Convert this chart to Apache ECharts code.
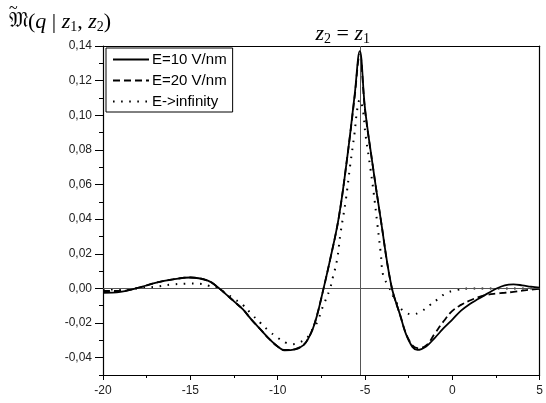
<!DOCTYPE html>
<html><head><meta charset="utf-8">
<script src="https://cdn.jsdelivr.net/npm/echarts@6/dist/echarts.min.js"></script>
<style>html,body{margin:0;padding:0;background:#fff}#c{width:546px;height:403px}</style>
</head><body><div id="c"></div>
<script>
const xTicks = [-20, -15, -10, -5, 0, 5];
const yTickLabels = [-0.04, -0.02, 0.00, 0.02, 0.04, 0.06, 0.08, 0.10, 0.12, 0.14];
const yMinorTicks = [-0.05, -0.03, -0.01, 0.01, 0.03, 0.05, 0.07, 0.09, 0.11, 0.13];
const seriesNames = ['E=10 V/nm', 'E=20 V/nm', 'E->infinity'];
const peakX = -5.3;

const x10 = [-20, -19, -18, -17, -16, -15, -14, -13.5, -13, -12.5, -12, -11.5, -11, -10.5, -10, -9.6, -9, -8.5, -8.25, -8, -7.75, -7.5, -7, -6.5, -6, -5.6, -5.3, -5, -4.6, -4.1, -3.5, -3, -2.5, -2, -1.5, -1, -0.5, 0, 0.5, 1, 1.5, 2, 2.5, 3, 3.5, 4, 4.5, 5];
const y10 = [-0.0025, -0.002, 0.0003, 0.0032, 0.0052, 0.0063, 0.0045, 0.0013, -0.003, -0.0075, -0.012, -0.018, -0.0235, -0.029, -0.0335, -0.0357, -0.0352, -0.0326, -0.029, -0.0237, -0.0158, -0.0055, 0.0165, 0.041, 0.077, 0.111, 0.137, 0.104, 0.074, 0.040, 0.002, -0.015, -0.030, -0.0355, -0.0335, -0.0285, -0.023, -0.018, -0.0128, -0.009, -0.006, -0.003, -0.0002, 0.0018, 0.0023, 0.0018, 0.001, 0.0004];

const x20 = [-20, -19, -18, -17, -16, -15, -14, -13.5, -13, -12.5, -12, -11.5, -11, -10.5, -10, -9.6, -9, -8.5, -8.25, -8, -7.75, -7.5, -7, -6.5, -6, -5.6, -5.3, -5, -4.6, -4.1, -3.5, -3, -2.5, -2, -1.5, -1, -0.5, 0, 0.5, 1, 1.5, 2, 2.5, 3, 3.5, 4, 4.5, 5];
const y20 = [-0.0015, -0.0015, 0.0003, 0.0032, 0.0052, 0.0063, 0.0045, 0.0013, -0.003, -0.0075, -0.012, -0.018, -0.0235, -0.029, -0.0335, -0.0355, -0.035, -0.0324, -0.0288, -0.0235, -0.0156, -0.0055, 0.0165, 0.041, 0.077, 0.110, 0.135, 0.103, 0.074, 0.040, 0.002, -0.015, -0.0295, -0.0345, -0.033, -0.026, -0.019, -0.013, -0.0095, -0.007, -0.005, -0.0037, -0.003, -0.0025, -0.002, -0.0013, -0.0007, -0.0002];

const xInf = [-20, -19, -18, -17, -16, -15, -14.5, -14, -13.5, -13, -12.5, -12, -11.5, -11, -10.5, -10, -9.5, -9.2, -8.75, -8.3, -8, -7.7, -7.5, -7.3, -7.0, -6.85, -6.6, -6.4, -6.1, -5.85, -5.6, -5.45, -5.3, -5.12, -4.98, -4.7, -4.5, -4.3, -4.1, -3.95, -3.65, -3.2, -2.8, -2.3, -1.8, -1.3, -0.8, -0.4, 0.2, 1.1, 2, 3, 4, 5];
const yInf = [-0.0008, -0.0005, 0.0, 0.001, 0.0023, 0.0028, 0.0027, 0.0017, 0.0003, -0.0025, -0.006, -0.0095, -0.0148, -0.0198, -0.0245, -0.0285, -0.0315, -0.0322, -0.0312, -0.0284, -0.0236, -0.0188, -0.0128, -0.0078, 0.0, 0.006, 0.0165, 0.032, 0.051, 0.071, 0.0896, 0.103, 0.109, 0.103, 0.0896, 0.070, 0.055, 0.0378, 0.0205, 0.0071, 0.0013, -0.0082, -0.013, -0.015, -0.0134, -0.0097, -0.006, -0.003, -0.001, 0, 0, 0, 0, 0];

const pairs = (xs, ys) => xs.map((x, i) => [x, ys[i]]);
const fmt = v => { const s = Math.abs(v) < 1e-9 ? '0.00' : v.toFixed(2); return s.replace('.', ','); };
const lblFont = {fontFamily: 'Arial, "Liberation Sans", sans-serif', fontSize: 12, color: '#222'};
const serif = '"Liberation Serif", "Times New Roman", serif';

const chart = echarts.init(document.getElementById('c'), null, {renderer: 'canvas'});
chart.setOption({
  animation: false,
  backgroundColor: '#fff',
  grid: {left: 103, right: 1, top: 46, bottom: 28, containLabel: false},
  title: {
    left: 4, top: 5,
    text: '{f|𝔐}{p|(}{i|q}{p| | }{i|z}{s|1}{p|, }{i|z}{s|2}{p|)}',
    textStyle: {
      fontWeight: 'normal',
      rich: {
        f: {fontFamily: '"DejaVu Serif", "Noto Sans", serif', fontSize: 21, fontWeight: 'normal', color: '#000'},
        p: {fontFamily: serif, fontSize: 22, fontWeight: 'normal', color: '#000'},
        i: {fontFamily: serif, fontStyle: 'italic', fontSize: 22, fontWeight: 'normal', color: '#000'},
        s: {fontFamily: serif, fontSize: 14, fontWeight: 'normal', color: '#000', padding: [10, 0, 0, 0]}
      }
    }
  },
  graphic: [{
    type: 'text', left: 9, top: 1, silent: true,
    style: {text: '~', fontFamily: serif, fontSize: 16, fill: '#000'}
  }],
  legend: {
    orient: 'vertical', left: 106, top: 48,
    data: seriesNames,
    itemWidth: 36, itemHeight: 12, itemGap: 6,
    borderColor: '#000', borderWidth: 1, borderRadius: 0,
    padding: [4, 6, 3, 6],
    itemStyle: {opacity: 0},
    textStyle: {fontFamily: 'Arial, "Liberation Sans", sans-serif', fontSize: 15, color: '#000', padding: [0, 0, 0, -2]},
    inactiveColor: '#000'
  },
  xAxis: [{
    type: 'value', min: -20, max: 5, interval: 5,
    axisLine: {show: true, onZero: false, lineStyle: {color: '#000', width: 1.2}},
    axisTick: {show: true, inside: false, length: 5, lineStyle: {color: '#000'}},
    minorTick: {show: true, splitNumber: 2, length: 3, lineStyle: {color: '#000'}},
    axisLabel: Object.assign({margin: 10, formatter: v => String(v)}, lblFont),
    splitLine: {show: false}
  }, {
    type: 'value', min: -20, max: 5, position: 'top',
    axisLine: {show: true, onZero: false, lineStyle: {color: '#000', width: 1.2}},
    axisTick: {show: false}, axisLabel: {show: false}, splitLine: {show: false}
  }],
  yAxis: [{
    type: 'value', min: -0.05, max: 0.14, interval: 0.01,
    axisLine: {show: true, onZero: false, lineStyle: {color: '#000', width: 1.2}},
    axisTick: {show: true, length: 8, customValues: yTickLabels, lineStyle: {color: '#000'}},
    axisLabel: Object.assign({margin: 11, customValues: yTickLabels, formatter: fmt}, lblFont),
    splitLine: {show: false}
  }, {
    type: 'value', min: -0.05, max: 0.14, interval: 0.01, position: 'left',
    axisLine: {show: false, onZero: false},
    axisTick: {show: true, length: 4, customValues: yMinorTicks, lineStyle: {color: '#000'}},
    axisLabel: {show: false}, splitLine: {show: false}
  }, {
    type: 'value', min: -0.05, max: 0.14, position: 'right',
    axisLine: {show: true, onZero: false, lineStyle: {color: '#000', width: 1.2}},
    axisTick: {show: false}, axisLabel: {show: false}, splitLine: {show: false}
  }],
  series: [{
    name: seriesNames[0], type: 'line', data: pairs(x10, y10), smooth: 0.4, symbol: 'none',
    lineStyle: {color: '#000', width: 1.8}, itemStyle: {color: '#000'}, z: 5,
    markLine: {
      silent: true, symbol: 'none', animation: false,
      lineStyle: {color: '#555', width: 1, type: 'solid'},
      label: {show: false},
      data: [
        {yAxis: 0},
        {xAxis: peakX, label: {show: true, position: 'end', distance: 2, offset: [-17, 2],
          formatter: '{i|z}{s|2}{p| = }{i|z}{s|1}',
          rich: {
            i: {fontFamily: serif, fontStyle: 'italic', fontSize: 22, color: '#000'},
            p: {fontFamily: serif, fontSize: 22, color: '#000'},
            s: {fontFamily: serif, fontSize: 14, color: '#000', padding: [10, 0, 0, 0]}
          }}}
      ]
    }
  }, {
    name: seriesNames[1], type: 'line', data: pairs(x20, y20), smooth: 0.4, symbol: 'none',
    lineStyle: {color: '#000', width: 1.8, type: [7, 4]}, itemStyle: {color: '#000'}, z: 4
  }, {
    name: seriesNames[2], type: 'line', data: pairs(xInf, yInf), smooth: 0.4, symbol: 'none',
    lineStyle: {color: '#000', width: 2, type: [1.6, 6.5]}, itemStyle: {color: '#000'}, z: 3
  }]
});
</script></body></html>
